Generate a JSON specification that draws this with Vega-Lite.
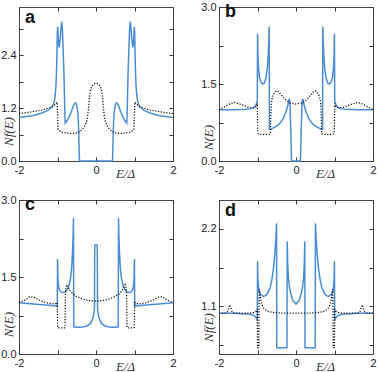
{
  "$schema": "https://vega.github.io/schema/vega-lite/v6.json",
  "padding": {"left": 0, "top": 0, "right": 0, "bottom": 0},
  "background": "white",
  "columns": 2,
  "spacing": {"row": 12, "column": 23},
  "config": {
    "view": {"stroke": "#444", "strokeWidth": 1},
    "axis": {
      "domain": false, "grid": false, "ticks": true, "tickSize": -4, "tickColor": "#333", "tickWidth": 1,
      "labelPadding": 7, "labelFont": "Liberation Sans", "labelFontSize": 11, "labelColor": "#222", "labelFlush": false, "labelOverlap": false,
      "titleFont": "Liberation Serif", "titleFontStyle": "italic", "titleFontWeight": "normal", "titleFontSize": 13, "titleColor": "#333"
    },
    "title": {"font": "Liberation Sans", "fontSize": 18, "fontWeight": "bold", "color": "#111", "anchor": "start", "frame": "group", "baseline": "alphabetic", "offset": -20, "dx": 6}
  },
  "datasets": {
    "a": [
      {"s":"m","x":-2.0,"y":0.99},{"s":"m","x":-1.8,"y":1.01},{"s":"m","x":-1.6,"y":1.04},{"s":"m","x":-1.4,"y":1.09},{"s":"m","x":-1.25,"y":1.15},{"s":"m","x":-1.15,"y":1.22},{"s":"m","x":-1.1,"y":1.3},{"s":"m","x":-1.07,"y":1.42},{"s":"m","x":-1.04,"y":1.7},{"s":"m","x":-1.02,"y":2.2},{"s":"m","x":-1.005,"y":2.9},{"s":"m","x":-0.995,"y":3.05},{"s":"m","x":-0.98,"y":2.75},{"s":"m","x":-0.96,"y":2.58},{"s":"m","x":-0.94,"y":2.7},{"s":"m","x":-0.91,"y":3.0},{"s":"m","x":-0.89,"y":3.17},{"s":"m","x":-0.87,"y":2.95},{"s":"m","x":-0.85,"y":2.45},{"s":"m","x":-0.83,"y":1.9},{"s":"m","x":-0.815,"y":1.3},{"s":"m","x":-0.8,"y":0.86},{"s":"m","x":-0.75,"y":0.92},{"s":"m","x":-0.7,"y":1.0},{"s":"m","x":-0.65,"y":1.1},{"s":"m","x":-0.6,"y":1.22},{"s":"m","x":-0.56,"y":1.3},{"s":"m","x":-0.53,"y":1.32},{"s":"m","x":-0.5,"y":1.27},{"s":"m","x":-0.47,"y":1.1},{"s":"m","x":-0.45,"y":0.7},{"s":"m","x":-0.43,"y":0.0},
      {"s":"m","x":0.43,"y":0.0},{"s":"m","x":0.45,"y":0.7},{"s":"m","x":0.47,"y":1.1},{"s":"m","x":0.5,"y":1.27},{"s":"m","x":0.53,"y":1.32},{"s":"m","x":0.56,"y":1.3},{"s":"m","x":0.6,"y":1.22},{"s":"m","x":0.65,"y":1.1},{"s":"m","x":0.7,"y":1.0},{"s":"m","x":0.75,"y":0.92},{"s":"m","x":0.8,"y":0.86},{"s":"m","x":0.815,"y":1.3},{"s":"m","x":0.83,"y":1.9},{"s":"m","x":0.85,"y":2.45},{"s":"m","x":0.87,"y":2.95},{"s":"m","x":0.89,"y":3.17},{"s":"m","x":0.91,"y":3.0},{"s":"m","x":0.94,"y":2.7},{"s":"m","x":0.96,"y":2.58},{"s":"m","x":0.98,"y":2.75},{"s":"m","x":0.995,"y":3.05},{"s":"m","x":1.005,"y":2.9},{"s":"m","x":1.02,"y":2.2},{"s":"m","x":1.04,"y":1.7},{"s":"m","x":1.07,"y":1.42},{"s":"m","x":1.1,"y":1.3},{"s":"m","x":1.15,"y":1.22},{"s":"m","x":1.25,"y":1.15},{"s":"m","x":1.4,"y":1.09},{"s":"m","x":1.6,"y":1.04},{"s":"m","x":1.8,"y":1.01},{"s":"m","x":2.0,"y":0.99},
      {"s":"n","x":-2.0,"y":1.08},{"s":"n","x":-1.8,"y":1.1},{"s":"n","x":-1.6,"y":1.13},{"s":"n","x":-1.4,"y":1.16},{"s":"n","x":-1.25,"y":1.2},{"s":"n","x":-1.12,"y":1.24},{"s":"n","x":-1.05,"y":1.29},{"s":"n","x":-1.01,"y":1.34},{"s":"n","x":-0.995,"y":1.0},{"s":"n","x":-0.985,"y":0.72},{"s":"n","x":-0.95,"y":0.69},{"s":"n","x":-0.9,"y":0.66},{"s":"n","x":-0.8,"y":0.64},{"s":"n","x":-0.7,"y":0.63},{"s":"n","x":-0.6,"y":0.63},{"s":"n","x":-0.5,"y":0.64},{"s":"n","x":-0.42,"y":0.67},{"s":"n","x":-0.35,"y":0.72},{"s":"n","x":-0.3,"y":0.78},{"s":"n","x":-0.25,"y":0.88},{"s":"n","x":-0.21,"y":1.05},{"s":"n","x":-0.18,"y":1.35},{"s":"n","x":-0.15,"y":1.58},{"s":"n","x":-0.11,"y":1.7},{"s":"n","x":-0.06,"y":1.75},{"s":"n","x":0.0,"y":1.77},
      {"s":"n","x":0.06,"y":1.75},{"s":"n","x":0.11,"y":1.7},{"s":"n","x":0.15,"y":1.58},{"s":"n","x":0.18,"y":1.35},{"s":"n","x":0.21,"y":1.05},{"s":"n","x":0.25,"y":0.88},{"s":"n","x":0.3,"y":0.78},{"s":"n","x":0.35,"y":0.72},{"s":"n","x":0.42,"y":0.67},{"s":"n","x":0.5,"y":0.64},{"s":"n","x":0.6,"y":0.63},{"s":"n","x":0.7,"y":0.63},{"s":"n","x":0.8,"y":0.64},{"s":"n","x":0.9,"y":0.66},{"s":"n","x":0.95,"y":0.69},{"s":"n","x":0.985,"y":0.72},{"s":"n","x":0.995,"y":1.0},{"s":"n","x":1.01,"y":1.34},{"s":"n","x":1.05,"y":1.29},{"s":"n","x":1.12,"y":1.24},{"s":"n","x":1.25,"y":1.2},{"s":"n","x":1.4,"y":1.16},{"s":"n","x":1.6,"y":1.13},{"s":"n","x":1.8,"y":1.1},{"s":"n","x":2.0,"y":1.08}
    ],
    "b": [
      {"s":"m","x":-2.0,"y":1.0},{"s":"m","x":-1.6,"y":1.0},{"s":"m","x":-1.3,"y":1.01},{"s":"m","x":-1.15,"y":1.02},{"s":"m","x":-1.08,"y":1.05},{"s":"m","x":-1.04,"y":1.09},{"s":"m","x":-1.015,"y":1.15},{"s":"m","x":-1.005,"y":1.2},{"s":"m","x":-0.998,"y":2.48},{"s":"m","x":-0.99,"y":2.1},{"s":"m","x":-0.975,"y":1.82},{"s":"m","x":-0.95,"y":1.64},{"s":"m","x":-0.92,"y":1.55},{"s":"m","x":-0.87,"y":1.5},{"s":"m","x":-0.82,"y":1.52},{"s":"m","x":-0.78,"y":1.62},{"s":"m","x":-0.75,"y":1.78},{"s":"m","x":-0.725,"y":2.0},{"s":"m","x":-0.71,"y":2.25},{"s":"m","x":-0.697,"y":2.62},{"s":"m","x":-0.69,"y":0.62},{"s":"m","x":-0.65,"y":0.62},{"s":"m","x":-0.6,"y":0.64},{"s":"m","x":-0.5,"y":0.68},{"s":"m","x":-0.4,"y":0.75},{"s":"m","x":-0.33,"y":0.83},{"s":"m","x":-0.27,"y":0.94},{"s":"m","x":-0.22,"y":1.06},{"s":"m","x":-0.185,"y":1.18},{"s":"m","x":-0.17,"y":1.21},{"s":"m","x":-0.155,"y":1.05},{"s":"m","x":-0.135,"y":0.6},{"s":"m","x":-0.115,"y":0.0},
      {"s":"m","x":0.115,"y":0.0},{"s":"m","x":0.135,"y":0.6},{"s":"m","x":0.155,"y":1.05},{"s":"m","x":0.17,"y":1.21},{"s":"m","x":0.185,"y":1.18},{"s":"m","x":0.22,"y":1.06},{"s":"m","x":0.27,"y":0.94},{"s":"m","x":0.33,"y":0.83},{"s":"m","x":0.4,"y":0.75},{"s":"m","x":0.5,"y":0.68},{"s":"m","x":0.6,"y":0.64},{"s":"m","x":0.65,"y":0.62},{"s":"m","x":0.69,"y":0.62},{"s":"m","x":0.697,"y":2.62},{"s":"m","x":0.71,"y":2.25},{"s":"m","x":0.725,"y":2.0},{"s":"m","x":0.75,"y":1.78},{"s":"m","x":0.78,"y":1.62},{"s":"m","x":0.82,"y":1.52},{"s":"m","x":0.87,"y":1.5},{"s":"m","x":0.92,"y":1.55},{"s":"m","x":0.95,"y":1.64},{"s":"m","x":0.975,"y":1.82},{"s":"m","x":0.99,"y":2.1},{"s":"m","x":0.998,"y":2.48},{"s":"m","x":1.005,"y":1.2},{"s":"m","x":1.015,"y":1.15},{"s":"m","x":1.04,"y":1.09},{"s":"m","x":1.08,"y":1.05},{"s":"m","x":1.15,"y":1.02},{"s":"m","x":1.3,"y":1.01},{"s":"m","x":1.6,"y":1.0},{"s":"m","x":2.0,"y":1.0},
      {"s":"n","x":-2.0,"y":1.0},{"s":"n","x":-1.85,"y":1.06},{"s":"n","x":-1.7,"y":1.12},{"s":"n","x":-1.6,"y":1.14},{"s":"n","x":-1.5,"y":1.12},{"s":"n","x":-1.35,"y":1.08},{"s":"n","x":-1.2,"y":1.04},{"s":"n","x":-1.07,"y":1.04},{"s":"n","x":-1.02,"y":1.08},{"s":"n","x":-1.005,"y":1.12},{"s":"n","x":-0.995,"y":0.6},{"s":"n","x":-0.98,"y":0.53},{"s":"n","x":-0.9,"y":0.52},{"s":"n","x":-0.8,"y":0.52},{"s":"n","x":-0.7,"y":0.52},{"s":"n","x":-0.665,"y":0.53},{"s":"n","x":-0.655,"y":0.9},{"s":"n","x":-0.64,"y":1.15},{"s":"n","x":-0.6,"y":1.27},{"s":"n","x":-0.55,"y":1.34},{"s":"n","x":-0.5,"y":1.37},{"s":"n","x":-0.45,"y":1.35},{"s":"n","x":-0.4,"y":1.3},{"s":"n","x":-0.33,"y":1.24},{"s":"n","x":-0.25,"y":1.18},{"s":"n","x":-0.15,"y":1.13},{"s":"n","x":0.0,"y":1.11},
      {"s":"n","x":0.15,"y":1.13},{"s":"n","x":0.25,"y":1.18},{"s":"n","x":0.33,"y":1.24},{"s":"n","x":0.4,"y":1.3},{"s":"n","x":0.45,"y":1.35},{"s":"n","x":0.5,"y":1.37},{"s":"n","x":0.55,"y":1.34},{"s":"n","x":0.6,"y":1.27},{"s":"n","x":0.64,"y":1.15},{"s":"n","x":0.655,"y":0.9},{"s":"n","x":0.665,"y":0.53},{"s":"n","x":0.7,"y":0.52},{"s":"n","x":0.8,"y":0.52},{"s":"n","x":0.9,"y":0.52},{"s":"n","x":0.98,"y":0.53},{"s":"n","x":0.995,"y":0.6},{"s":"n","x":1.005,"y":1.12},{"s":"n","x":1.02,"y":1.08},{"s":"n","x":1.07,"y":1.04},{"s":"n","x":1.2,"y":1.04},{"s":"n","x":1.35,"y":1.08},{"s":"n","x":1.5,"y":1.12},{"s":"n","x":1.6,"y":1.14},{"s":"n","x":1.7,"y":1.12},{"s":"n","x":1.85,"y":1.06},{"s":"n","x":2.0,"y":1.0}
    ],
    "c": [
      {"s":"m","x":-2.0,"y":1.0},{"s":"m","x":-1.7,"y":0.98},{"s":"m","x":-1.4,"y":0.96},{"s":"m","x":-1.15,"y":0.945},{"s":"m","x":-1.02,"y":0.935},{"s":"m","x":-1.005,"y":0.93},{"s":"m","x":-0.998,"y":1.85},{"s":"m","x":-0.99,"y":1.5},{"s":"m","x":-0.975,"y":1.33},{"s":"m","x":-0.95,"y":1.25},{"s":"m","x":-0.91,"y":1.21},{"s":"m","x":-0.86,"y":1.2},{"s":"m","x":-0.8,"y":1.21},{"s":"m","x":-0.75,"y":1.25},{"s":"m","x":-0.7,"y":1.34},{"s":"m","x":-0.66,"y":1.48},{"s":"m","x":-0.63,"y":1.7},{"s":"m","x":-0.61,"y":1.98},{"s":"m","x":-0.595,"y":2.3},{"s":"m","x":-0.585,"y":2.65},{"s":"m","x":-0.578,"y":0.53},{"s":"m","x":-0.5,"y":0.52},{"s":"m","x":-0.4,"y":0.52},{"s":"m","x":-0.3,"y":0.53},{"s":"m","x":-0.2,"y":0.56},{"s":"m","x":-0.14,"y":0.6},{"s":"m","x":-0.1,"y":0.66},{"s":"m","x":-0.07,"y":0.73},{"s":"m","x":-0.05,"y":0.82},{"s":"m","x":-0.04,"y":0.9},{"s":"m","x":-0.035,"y":1.9},{"s":"m","x":-0.03,"y":2.12},{"s":"m","x":0.0,"y":2.13},
      {"s":"m","x":0.03,"y":2.12},{"s":"m","x":0.035,"y":1.9},{"s":"m","x":0.04,"y":0.9},{"s":"m","x":0.05,"y":0.82},{"s":"m","x":0.07,"y":0.73},{"s":"m","x":0.1,"y":0.66},{"s":"m","x":0.14,"y":0.6},{"s":"m","x":0.2,"y":0.56},{"s":"m","x":0.3,"y":0.53},{"s":"m","x":0.4,"y":0.52},{"s":"m","x":0.5,"y":0.52},{"s":"m","x":0.578,"y":0.53},{"s":"m","x":0.585,"y":2.65},{"s":"m","x":0.595,"y":2.3},{"s":"m","x":0.61,"y":1.98},{"s":"m","x":0.63,"y":1.7},{"s":"m","x":0.66,"y":1.48},{"s":"m","x":0.7,"y":1.34},{"s":"m","x":0.75,"y":1.25},{"s":"m","x":0.8,"y":1.21},{"s":"m","x":0.86,"y":1.2},{"s":"m","x":0.91,"y":1.21},{"s":"m","x":0.95,"y":1.25},{"s":"m","x":0.975,"y":1.33},{"s":"m","x":0.99,"y":1.5},{"s":"m","x":0.998,"y":1.85},{"s":"m","x":1.005,"y":0.93},{"s":"m","x":1.02,"y":0.935},{"s":"m","x":1.15,"y":0.945},{"s":"m","x":1.4,"y":0.96},{"s":"m","x":1.7,"y":0.98},{"s":"m","x":2.0,"y":1.0},
      {"s":"n","x":-2.0,"y":1.0},{"s":"n","x":-1.85,"y":1.05},{"s":"n","x":-1.72,"y":1.12},{"s":"n","x":-1.6,"y":1.1},{"s":"n","x":-1.45,"y":1.04},{"s":"n","x":-1.3,"y":1.0},{"s":"n","x":-1.15,"y":0.98},{"s":"n","x":-1.03,"y":0.98},{"s":"n","x":-1.005,"y":1.0},{"s":"n","x":-0.995,"y":0.52},{"s":"n","x":-0.98,"y":0.51},{"s":"n","x":-0.9,"y":0.51},{"s":"n","x":-0.82,"y":0.51},{"s":"n","x":-0.805,"y":0.52},{"s":"n","x":-0.795,"y":1.15},{"s":"n","x":-0.78,"y":1.3},{"s":"n","x":-0.76,"y":1.35},{"s":"n","x":-0.73,"y":1.31},{"s":"n","x":-0.68,"y":1.24},{"s":"n","x":-0.6,"y":1.17},{"s":"n","x":-0.5,"y":1.12},{"s":"n","x":-0.4,"y":1.09},{"s":"n","x":-0.3,"y":1.06},{"s":"n","x":-0.15,"y":1.04},{"s":"n","x":0.0,"y":1.03},
      {"s":"n","x":0.15,"y":1.04},{"s":"n","x":0.3,"y":1.06},{"s":"n","x":0.4,"y":1.09},{"s":"n","x":0.5,"y":1.12},{"s":"n","x":0.6,"y":1.17},{"s":"n","x":0.68,"y":1.24},{"s":"n","x":0.73,"y":1.31},{"s":"n","x":0.76,"y":1.35},{"s":"n","x":0.78,"y":1.3},{"s":"n","x":0.795,"y":1.15},{"s":"n","x":0.805,"y":0.52},{"s":"n","x":0.82,"y":0.51},{"s":"n","x":0.9,"y":0.51},{"s":"n","x":0.98,"y":0.51},{"s":"n","x":0.995,"y":0.52},{"s":"n","x":1.005,"y":1.0},{"s":"n","x":1.03,"y":0.98},{"s":"n","x":1.15,"y":0.98},{"s":"n","x":1.3,"y":1.0},{"s":"n","x":1.45,"y":1.04},{"s":"n","x":1.6,"y":1.1},{"s":"n","x":1.72,"y":1.12},{"s":"n","x":1.85,"y":1.05},{"s":"n","x":2.0,"y":1.0}
    ],
    "d": [
      {"s":"m","x":-2.0,"y":1.0},{"s":"m","x":-1.6,"y":1.0},{"s":"m","x":-1.3,"y":0.99},{"s":"m","x":-1.15,"y":0.98},{"s":"m","x":-1.07,"y":0.96},{"s":"m","x":-1.03,"y":0.93},{"s":"m","x":-1.005,"y":0.9},{"s":"m","x":-0.998,"y":1.74},{"s":"m","x":-0.99,"y":1.5},{"s":"m","x":-0.975,"y":1.37},{"s":"m","x":-0.95,"y":1.3},{"s":"m","x":-0.91,"y":1.26},{"s":"m","x":-0.85,"y":1.24},{"s":"m","x":-0.79,"y":1.25},{"s":"m","x":-0.73,"y":1.29},{"s":"m","x":-0.67,"y":1.37},{"s":"m","x":-0.62,"y":1.5},{"s":"m","x":-0.58,"y":1.66},{"s":"m","x":-0.55,"y":1.85},{"s":"m","x":-0.525,"y":2.05},{"s":"m","x":-0.505,"y":2.28},{"s":"m","x":-0.498,"y":0.51},{"s":"m","x":-0.4,"y":0.51},{"s":"m","x":-0.3,"y":0.51},{"s":"m","x":-0.235,"y":0.51},{"s":"m","x":-0.228,"y":2.02},{"s":"m","x":-0.215,"y":1.7},{"s":"m","x":-0.2,"y":1.52},{"s":"m","x":-0.17,"y":1.37},{"s":"m","x":-0.13,"y":1.27},{"s":"m","x":-0.08,"y":1.18},{"s":"m","x":0.0,"y":1.13},
      {"s":"m","x":0.08,"y":1.18},{"s":"m","x":0.13,"y":1.27},{"s":"m","x":0.17,"y":1.37},{"s":"m","x":0.2,"y":1.52},{"s":"m","x":0.215,"y":1.7},{"s":"m","x":0.228,"y":2.02},{"s":"m","x":0.235,"y":0.51},{"s":"m","x":0.3,"y":0.51},{"s":"m","x":0.4,"y":0.51},{"s":"m","x":0.498,"y":0.51},{"s":"m","x":0.505,"y":2.28},{"s":"m","x":0.525,"y":2.05},{"s":"m","x":0.55,"y":1.85},{"s":"m","x":0.58,"y":1.66},{"s":"m","x":0.62,"y":1.5},{"s":"m","x":0.67,"y":1.37},{"s":"m","x":0.73,"y":1.29},{"s":"m","x":0.79,"y":1.25},{"s":"m","x":0.85,"y":1.24},{"s":"m","x":0.91,"y":1.26},{"s":"m","x":0.95,"y":1.3},{"s":"m","x":0.975,"y":1.37},{"s":"m","x":0.99,"y":1.5},{"s":"m","x":0.998,"y":1.74},{"s":"m","x":1.005,"y":0.9},{"s":"m","x":1.03,"y":0.93},{"s":"m","x":1.07,"y":0.96},{"s":"m","x":1.15,"y":0.98},{"s":"m","x":1.3,"y":0.99},{"s":"m","x":1.6,"y":1.0},{"s":"m","x":2.0,"y":1.0},
      {"s":"n","x":-2.0,"y":1.0},{"s":"n","x":-1.85,"y":1.0},{"s":"n","x":-1.78,"y":1.02},{"s":"n","x":-1.72,"y":1.12},{"s":"n","x":-1.66,"y":1.02},{"s":"n","x":-1.6,"y":1.0},{"s":"n","x":-1.4,"y":1.0},{"s":"n","x":-1.2,"y":1.0},{"s":"n","x":-1.08,"y":1.01},{"s":"n","x":-1.03,"y":1.03},{"s":"n","x":-1.005,"y":1.06},{"s":"n","x":-0.998,"y":0.51},{"s":"n","x":-0.975,"y":0.51},{"s":"n","x":-0.965,"y":0.52},{"s":"n","x":-0.958,"y":1.3},{"s":"n","x":-0.95,"y":1.34},{"s":"n","x":-0.93,"y":1.24},{"s":"n","x":-0.9,"y":1.15},{"s":"n","x":-0.86,"y":1.09},{"s":"n","x":-0.8,"y":1.05},{"s":"n","x":-0.7,"y":1.02},{"s":"n","x":-0.5,"y":1.005},{"s":"n","x":-0.25,"y":1.0},{"s":"n","x":0.0,"y":1.0},
      {"s":"n","x":0.25,"y":1.0},{"s":"n","x":0.5,"y":1.005},{"s":"n","x":0.7,"y":1.02},{"s":"n","x":0.8,"y":1.05},{"s":"n","x":0.86,"y":1.09},{"s":"n","x":0.9,"y":1.15},{"s":"n","x":0.93,"y":1.24},{"s":"n","x":0.95,"y":1.34},{"s":"n","x":0.958,"y":1.3},{"s":"n","x":0.965,"y":0.52},{"s":"n","x":0.975,"y":0.51},{"s":"n","x":0.998,"y":0.51},{"s":"n","x":1.005,"y":1.06},{"s":"n","x":1.03,"y":1.03},{"s":"n","x":1.08,"y":1.01},{"s":"n","x":1.2,"y":1.0},{"s":"n","x":1.4,"y":1.0},{"s":"n","x":1.6,"y":1.0},{"s":"n","x":1.66,"y":1.02},{"s":"n","x":1.72,"y":1.12},{"s":"n","x":1.78,"y":1.02},{"s":"n","x":1.85,"y":1.0},{"s":"n","x":2.0,"y":1.0}
    ]
  },
  "concat": [
    {
      "width": 154, "height": 154,
      "title": {"text": "a"},
      "data": {"name": "a"},
      "layer": [
        {"transform": [{"filter": "datum.s == 'm'"}],
         "mark": {"type": "line", "color": "#4a8cd4", "strokeWidth": 1.5},
         "encoding": {
           "x": {"field": "x", "type": "quantitative", "scale": {"domain": [-2, 2], "nice": false}, "axis": {"orient": "bottom", "values": [-2, -1, 0, 1, 2], "labelExpr": "datum.value % 2 === 0 ? '' + datum.value : ''", "title": "E/Δ", "titleX": 106, "titleY": 16, "titleBaseline": "alphabetic", "titleAlign": "center"}},
           "y": {"field": "y", "type": "quantitative", "scale": {"domain": [0, 3.5], "nice": false, "zero": false}, "axis": {"orient": "left", "values": [0, 0.6, 1.2, 1.8, 2.4, 3.0], "labelExpr": "(datum.value === 0 || datum.value === 1.2 || datum.value === 2.4) ? format(datum.value, '.1f') : ''", "title": "Nf(E)", "titleX": -11, "titleY": 124, "titleAngle": -90, "titleAlign": "center", "titleBaseline": "middle"}}
         }},
        {"transform": [{"filter": "datum.s == 'n'"}],
         "mark": {"type": "line", "color": "#111", "strokeWidth": 1.3, "strokeDash": [1.2, 1.6]},
         "encoding": {
           "x": {"field": "x", "type": "quantitative", "scale": {"domain": [-2, 2], "nice": false}, "axis": {"orient": "top", "values": [-2, -1, 0, 1, 2], "labels": false, "title": null}},
           "y": {"field": "y", "type": "quantitative", "scale": {"domain": [0, 3.5], "nice": false, "zero": false}, "axis": {"orient": "right", "values": [0, 0.6, 1.2, 1.8, 2.4, 3.0], "labels": false, "title": null}}
         }}
      ],
      "resolve": {"axis": {"x": "independent", "y": "independent"}}
    },
    {
      "width": 154, "height": 154,
      "title": {"text": "b"},
      "data": {"name": "b"},
      "layer": [
        {"transform": [{"filter": "datum.s == 'm'"}],
         "mark": {"type": "line", "color": "#4a8cd4", "strokeWidth": 1.5},
         "encoding": {
           "x": {"field": "x", "type": "quantitative", "scale": {"domain": [-2, 2], "nice": false}, "axis": {"orient": "bottom", "values": [-2, -1, 0, 1, 2], "labelExpr": "datum.value % 2 === 0 ? '' + datum.value : ''", "title": "E/Δ", "titleX": 106, "titleY": 16, "titleBaseline": "alphabetic", "titleAlign": "center"}},
           "y": {"field": "y", "type": "quantitative", "scale": {"domain": [0, 3.0], "nice": false, "zero": false}, "axis": {"orient": "left", "values": [0, 0.75, 1.5, 2.25, 3.0], "labelExpr": "(datum.value === 0 || datum.value === 1.5 || datum.value === 3) ? format(datum.value, '.1f') : ''", "title": "N(E)", "titleX": -11, "titleY": 130, "titleAngle": -90, "titleAlign": "center", "titleBaseline": "middle"}}
         }},
        {"transform": [{"filter": "datum.s == 'n'"}],
         "mark": {"type": "line", "color": "#111", "strokeWidth": 1.3, "strokeDash": [1.2, 1.6]},
         "encoding": {
           "x": {"field": "x", "type": "quantitative", "scale": {"domain": [-2, 2], "nice": false}, "axis": {"orient": "top", "values": [-2, -1, 0, 1, 2], "labels": false, "title": null}},
           "y": {"field": "y", "type": "quantitative", "scale": {"domain": [0, 3.0], "nice": false, "zero": false}, "axis": {"orient": "right", "values": [0, 0.75, 1.5, 2.25, 3.0], "labels": false, "title": null}}
         }}
      ],
      "resolve": {"axis": {"x": "independent", "y": "independent"}}
    },
    {
      "width": 154, "height": 154,
      "title": {"text": "c"},
      "data": {"name": "c"},
      "layer": [
        {"transform": [{"filter": "datum.s == 'm'"}],
         "mark": {"type": "line", "color": "#4a8cd4", "strokeWidth": 1.5},
         "encoding": {
           "x": {"field": "x", "type": "quantitative", "scale": {"domain": [-2, 2], "nice": false}, "axis": {"orient": "bottom", "values": [-2, -1, 0, 1, 2], "labelExpr": "datum.value % 2 === 0 ? '' + datum.value : ''", "title": "E/Δ", "titleX": 106, "titleY": 16, "titleBaseline": "alphabetic", "titleAlign": "center"}},
           "y": {"field": "y", "type": "quantitative", "scale": {"domain": [0, 3.0], "nice": false, "zero": false}, "axis": {"orient": "left", "values": [0, 0.75, 1.5, 2.25, 3.0], "labelExpr": "(datum.value === 0 || datum.value === 1.5 || datum.value === 3) ? format(datum.value, '.1f') : ''", "title": "N(E)", "titleX": -11, "titleY": 124, "titleAngle": -90, "titleAlign": "center", "titleBaseline": "middle"}}
         }},
        {"transform": [{"filter": "datum.s == 'n'"}],
         "mark": {"type": "line", "color": "#111", "strokeWidth": 1.3, "strokeDash": [1.2, 1.6]},
         "encoding": {
           "x": {"field": "x", "type": "quantitative", "scale": {"domain": [-2, 2], "nice": false}, "axis": {"orient": "top", "values": [-2, -1, 0, 1, 2], "labels": false, "title": null}},
           "y": {"field": "y", "type": "quantitative", "scale": {"domain": [0, 3.0], "nice": false, "zero": false}, "axis": {"orient": "right", "values": [0, 0.75, 1.5, 2.25, 3.0], "labels": false, "title": null}}
         }}
      ],
      "resolve": {"axis": {"x": "independent", "y": "independent"}}
    },
    {
      "width": 154, "height": 154,
      "title": {"text": "d"},
      "data": {"name": "d"},
      "layer": [
        {"transform": [{"filter": "datum.s == 'm'"}],
         "mark": {"type": "line", "color": "#4a8cd4", "strokeWidth": 1.5},
         "encoding": {
           "x": {"field": "x", "type": "quantitative", "scale": {"domain": [-2, 2], "nice": false}, "axis": {"orient": "bottom", "values": [-2, -1, 0, 1, 2], "labelExpr": "datum.value % 2 === 0 ? '' + datum.value : ''", "title": "E/Δ", "titleX": 106, "titleY": 16, "titleBaseline": "alphabetic", "titleAlign": "center"}},
           "y": {"field": "y", "type": "quantitative", "scale": {"domain": [0.42, 2.61], "nice": false, "zero": false}, "axis": {"orient": "left", "values": [0.55, 1.1, 1.65, 2.2], "labelExpr": "(datum.value === 1.1 || datum.value === 2.2) ? format(datum.value, '.1f') : ''", "title": "Nf(E)", "titleX": -11, "titleY": 127, "titleAngle": -90, "titleAlign": "center", "titleBaseline": "middle"}}
         }},
        {"transform": [{"filter": "datum.s == 'n'"}],
         "mark": {"type": "line", "color": "#111", "strokeWidth": 1.3, "strokeDash": [1.2, 1.6]},
         "encoding": {
           "x": {"field": "x", "type": "quantitative", "scale": {"domain": [-2, 2], "nice": false}, "axis": {"orient": "top", "values": [-2, -1, 0, 1, 2], "labels": false, "title": null}},
           "y": {"field": "y", "type": "quantitative", "scale": {"domain": [0.42, 2.61], "nice": false, "zero": false}, "axis": {"orient": "right", "values": [0.55, 1.1, 1.65, 2.2], "labels": false, "title": null}}
         }}
      ],
      "resolve": {"axis": {"x": "independent", "y": "independent"}}
    }
  ]
}
